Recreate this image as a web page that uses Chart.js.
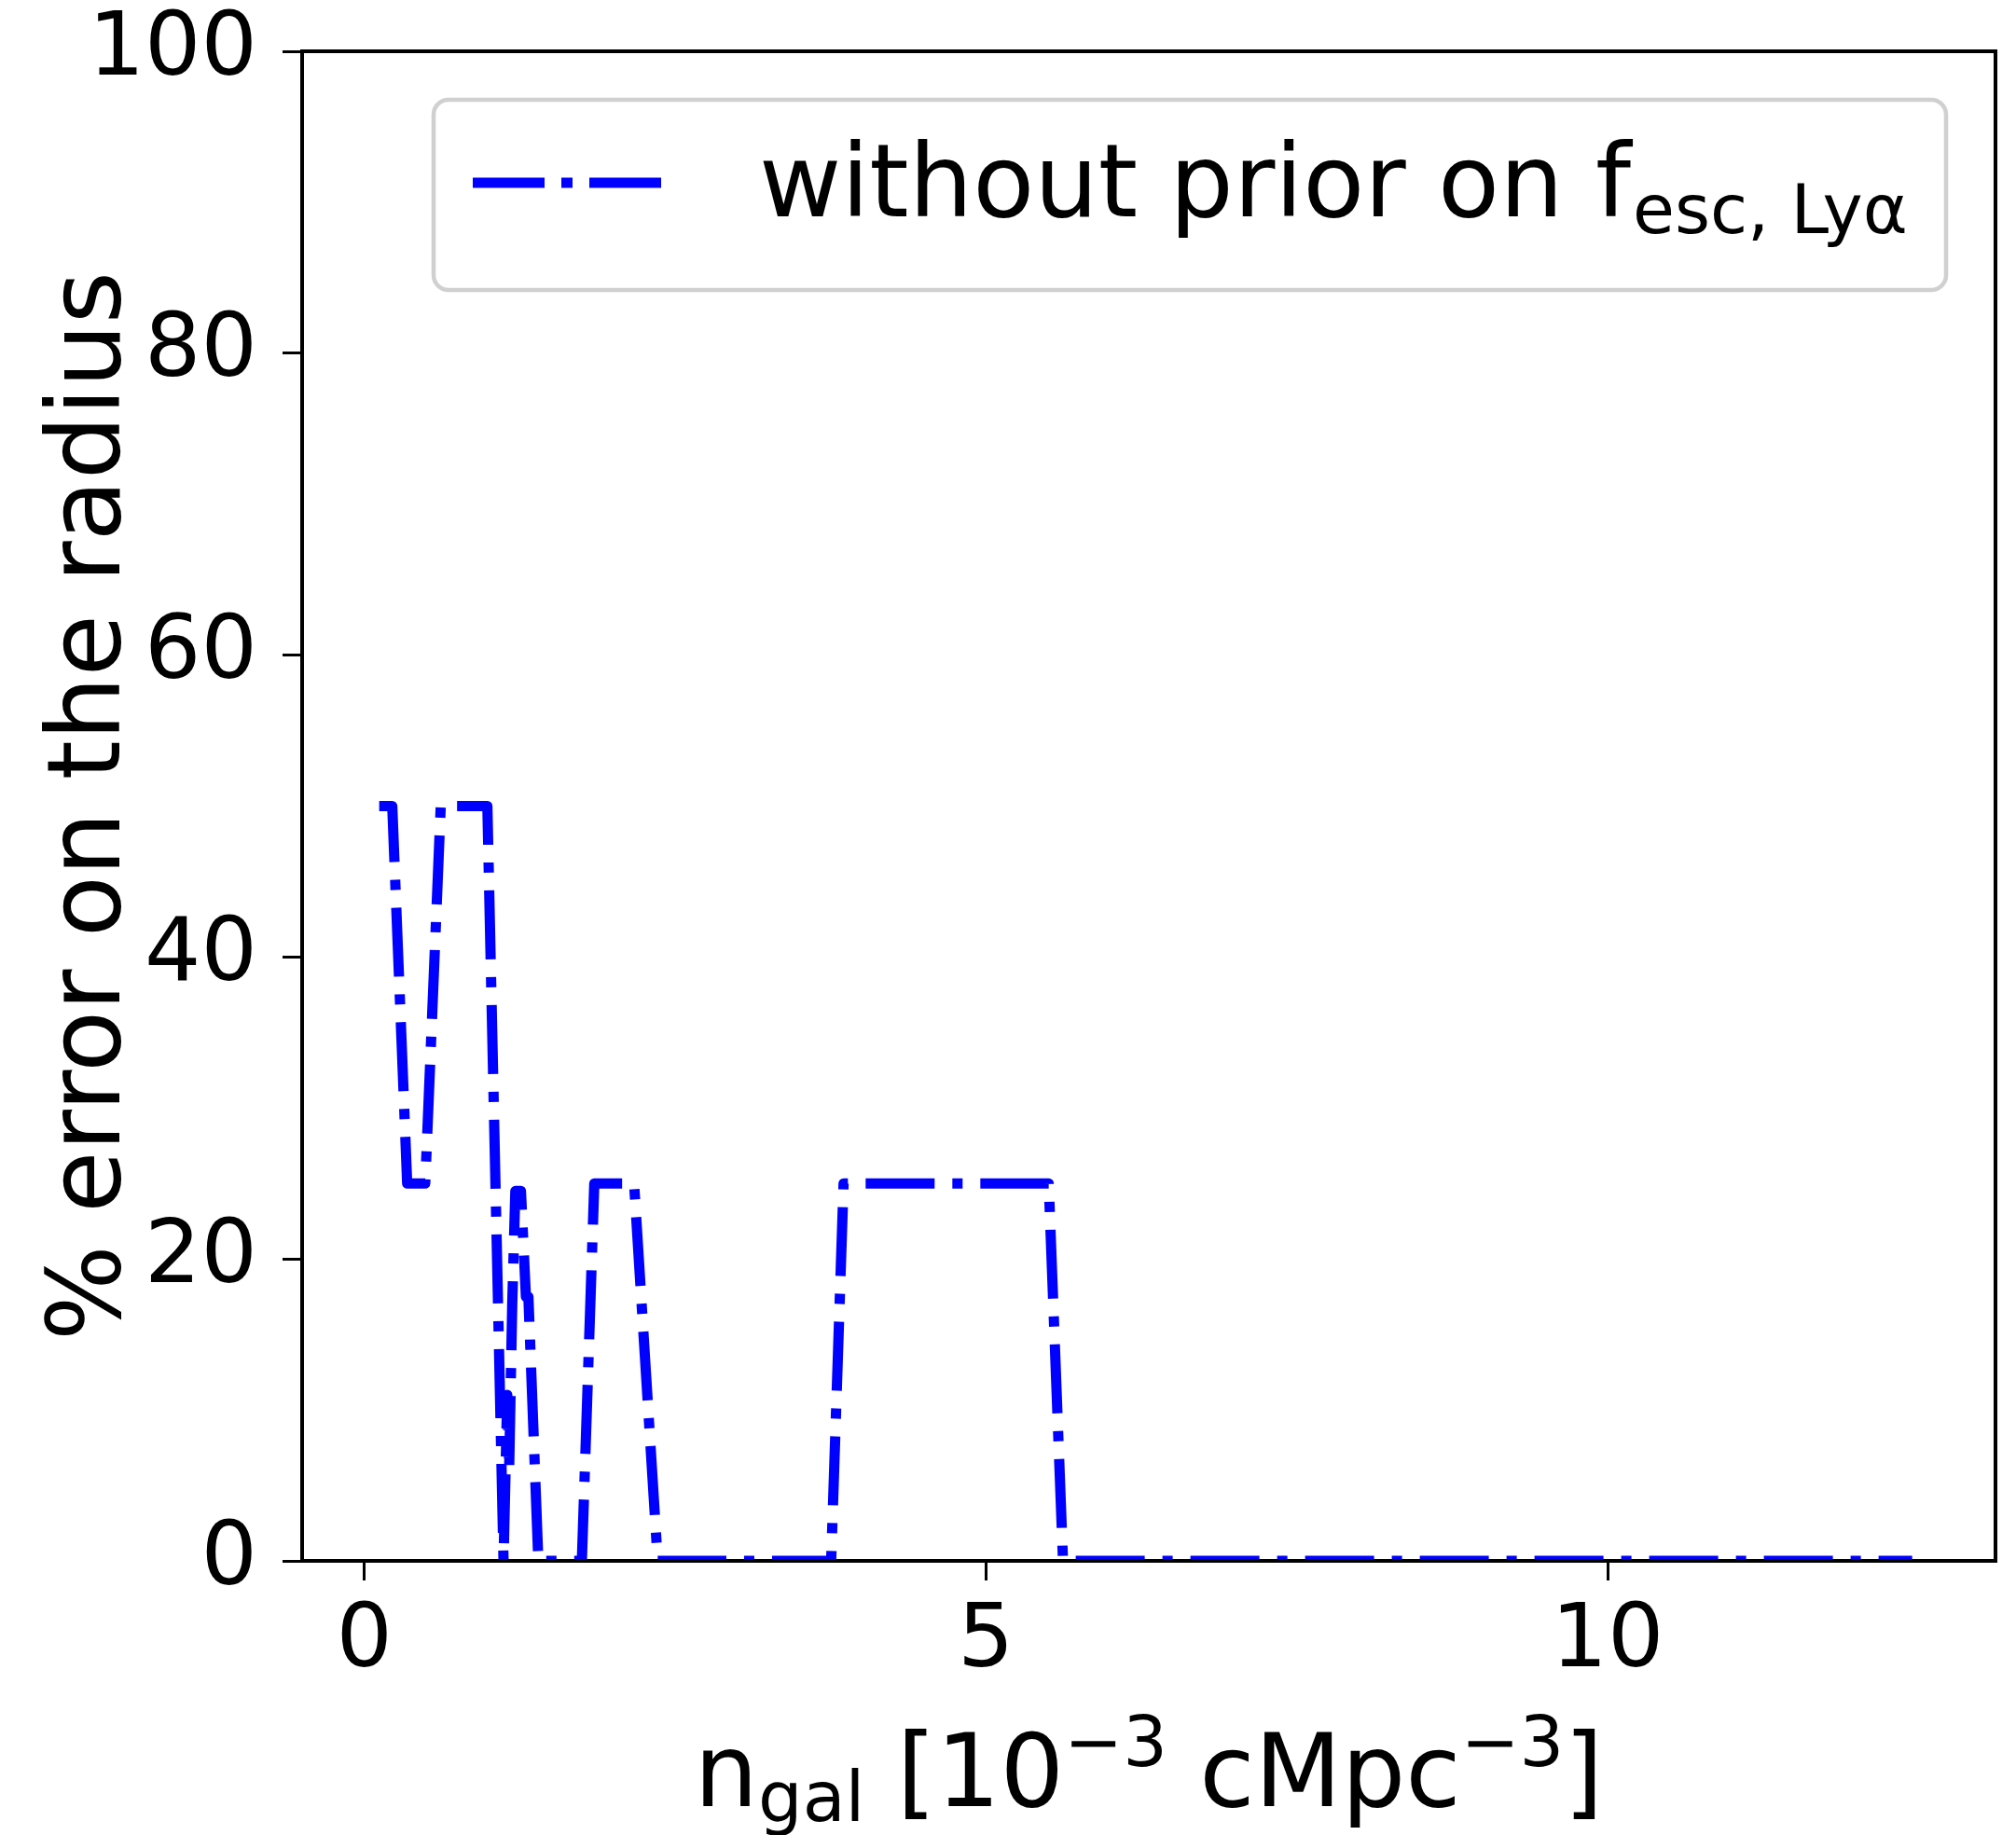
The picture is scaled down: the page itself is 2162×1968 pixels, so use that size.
<!DOCTYPE html>
<html>
<head>
<meta charset="utf-8">
<title>error on the radius</title>
<script src="https://cdn.jsdelivr.net/npm/chart.js@4.4.1/dist/chart.umd.min.js"></script>
<style>
    body { margin: 0; background: #fff; }
    canvas { display: block; }
</style>
</head>
<body>
<canvas id="chart-area" width="2162" height="1968"></canvas>
<script>
// podaci ocitani sa slike
const nGal = [0.12, 0.225, 0.345, 0.49, 0.615, 0.99, 1.12, 1.15, 1.165, 1.19, 1.215, 1.26, 1.30, 1.32, 1.40,
    1.75, 1.85, 2.17, 2.36, 3.755, 3.855, 5.505, 5.62, 12.45];
const radiusError = [50, 50, 25, 25, 50, 50, 0, 11, 6, 17, 24.5, 24.5, 17.5, 17.5, 0,
    0, 25, 25, 0, 0, 25, 25, 0, 0];
const xTickValues = [0, 5, 10];
const yTickValues = [0, 20, 40, 60, 80, 100];
const seriesLabel = 'without prior on f';
const seriesLabelSub = 'esc, Ly\u03b1';
const yTitle = '% error on the radius';

const FONT = "'DejaVu Sans', sans-serif";

// okvir oko grafa, oznaka x osi i legenda
const extras = {
    id: 'extras',
    afterDraw(chart) {
        const ctx = chart.ctx;
        const area = chart.chartArea;
        ctx.save();

        ctx.strokeStyle = '#000';
        ctx.lineWidth = 4;
        ctx.strokeRect(area.left, area.top, area.right - area.left, area.bottom - area.top);

        // x label s indeksima
        var parts = [
            { t: 'n', size: 108, dy: 0 },
            { t: 'gal', size: 75, dy: 16 },
            { t: ' [10', size: 108, dy: 0 },
            { t: '\u22123', size: 75, dy: -43 },
            { t: ' cMpc', size: 108, dy: 0 },
            { t: '\u22123', size: 75, dy: -43 },
            { t: ']', size: 108, dy: 0 },
        ];
        var total = 0;
        parts.forEach(function (p) {
            ctx.font = p.size + 'px ' + FONT;
            p.w = ctx.measureText(p.t).width;
            total += p.w;
        });
        var x = (area.left + area.right) / 2 - total / 2;
        var baseY = 1937;
        ctx.fillStyle = '#000';
        ctx.textBaseline = 'alphabetic';
        ctx.textAlign = 'left';
        parts.forEach(function (p) {
            ctx.font = p.size + 'px ' + FONT;
            ctx.fillText(p.t, x, baseY + p.dy);
            x += p.w;
        });

        // legenda
        ctx.beginPath();
        ctx.roundRect(465, 107, 1622, 204, 16);
        ctx.fillStyle = 'rgba(255,255,255,0.8)';
        ctx.fill();
        ctx.strokeStyle = '#d0d0d0';
        ctx.lineWidth = 4.5;
        ctx.stroke();

        ctx.beginPath();
        ctx.setLineDash([77, 18, 12, 18]);
        ctx.lineCap = 'butt';
        ctx.strokeStyle = '#0000ff';
        ctx.lineWidth = 11;
        ctx.moveTo(507, 196);
        ctx.lineTo(711, 196);
        ctx.stroke();
        ctx.setLineDash([]);

        ctx.fillStyle = '#000';
        ctx.font = '108px ' + FONT;
        ctx.fillText(seriesLabel, 814, 232);
        var lw = ctx.measureText(seriesLabel).width;
        ctx.font = '73px ' + FONT;
        ctx.fillText(seriesLabelSub, 814 + lw + 2, 250);

        ctx.restore();
    }
};

// bez dodatnog razmaka za oznake na rubovima
function noEdgePadding(scale) {
    scale.paddingTop = 0;
    scale.paddingBottom = 0;
    scale.paddingLeft = 0;
    scale.paddingRight = 0;
}

var points = nGal.map(function (v, i) {
    return { x: v, y: radiusError[i] };
});

var config = {
    type: 'line',
    data: {
        datasets: [
            {
                label: seriesLabel,
                data: points,
                borderColor: '#0000ff',
                borderWidth: 11,
                borderDash: [74, 19, 11, 19],
                borderJoinStyle: 'round',
                borderCapStyle: 'butt',
                pointRadius: 0,
                fill: false,
                tension: 0,
            },
        ],
    },
    options: {
        responsive: false,
        devicePixelRatio: 1,
        animation: false,
        events: [],
        layout: {
            padding: { top: 55, right: 22, left: 0, bottom: 0 },
        },
        plugins: {
            legend: { display: false },
            tooltip: { enabled: false },
        },
        scales: {
            x: {
                type: 'linear',
                min: -0.5,
                max: 13.12,
                afterFit: function (scale) {
                    scale.height = 294;
                    noEdgePadding(scale);
                },
                afterBuildTicks: function (scale) {
                    scale.ticks = xTickValues.map(function (v) { return { value: v }; });
                },
                grid: {
                    display: true,
                    drawOnChartArea: false,
                    drawTicks: true,
                    tickLength: 21,
                    tickWidth: 3,
                    tickColor: '#000',
                },
                border: { display: true, color: '#000', width: 4 },
                ticks: {
                    color: '#000',
                    font: { family: FONT, size: 95 },
                    padding: 10,
                    maxRotation: 0,
                    autoSkip: false,
                },
            },
            y: {
                type: 'linear',
                min: 0,
                max: 100,
                afterFit: function (scale) {
                    scale.width = 324;
                    noEdgePadding(scale);
                },
                afterBuildTicks: function (scale) {
                    scale.ticks = yTickValues.map(function (v) { return { value: v }; });
                },
                grid: {
                    display: true,
                    drawOnChartArea: false,
                    drawTicks: true,
                    tickLength: 21,
                    tickWidth: 3,
                    tickColor: '#000',
                },
                border: { display: true, color: '#000', width: 4 },
                ticks: {
                    color: '#000',
                    font: { family: FONT, size: 95 },
                    padding: 27,
                    autoSkip: false,
                },
                title: {
                    display: true,
                    text: yTitle,
                    color: '#000',
                    font: { family: FONT, size: 108 },
                    padding: { top: 35, bottom: 0 },
                },
            },
        },
    },
    plugins: [extras],
};

var ctx = document.getElementById('chart-area').getContext('2d');
new Chart(ctx, config);
</script>
</body>
</html>
